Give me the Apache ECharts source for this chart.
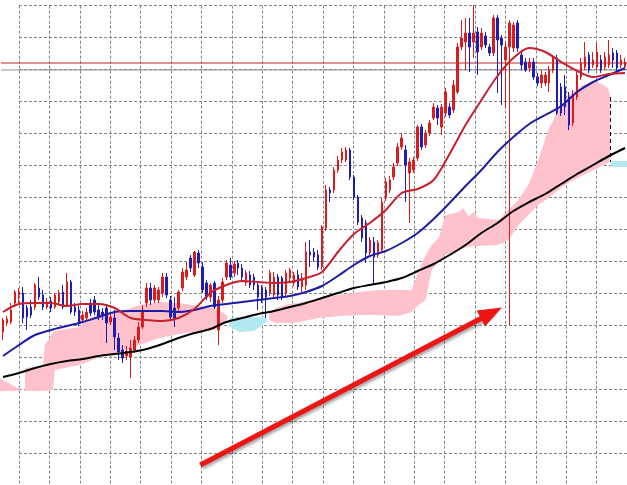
<!DOCTYPE html>
<html>
<head>
<meta charset="utf-8">
<title>chart</title>
<script src="https://cdn.jsdelivr.net/npm/echarts@6.0.0/dist/echarts.min.js"></script>
<style>
  html, body { margin: 0; padding: 0; background: #fff; }
  #main { width: 627px; height: 485px; }
</style>
</head>
<body>
<div id="main"></div>
<script>
// bars: [open, close, low, high]
const candles = [
  [1.3668,1.3680,1.3660,1.3682],[1.3677,1.3681,1.3674,1.3684],[1.3678,1.3690,1.3676,1.3697],[1.3697,1.3708,1.3693,1.3710],
  [1.3705,1.3708,1.3697,1.3712],[1.3707,1.3682,1.3677,1.3713],[1.3692,1.3683,1.3670,1.3695],[1.3693,1.3685,1.3682,1.3700],
  [1.3693,1.3715,1.3690,1.3717],[1.3712,1.3703,1.3700,1.3723],[1.3705,1.3693,1.3690,1.3710],[1.3693,1.3698,1.3691,1.3702],
  [1.3699,1.3692,1.3688,1.3703],[1.3693,1.3705,1.3691,1.3707],[1.3698,1.3707,1.3695,1.3710],[1.3708,1.3693,1.3691,1.3715],
  [1.3695,1.3718,1.3693,1.3727],[1.3718,1.3688,1.3686,1.3720],[1.3693,1.3688,1.3684,1.3697],[1.3690,1.3677,1.3674,1.3694],
  [1.3680,1.3685,1.3677,1.3689],[1.3682,1.3688,1.3679,1.3692],[1.3697,1.3687,1.3684,1.3701],[1.3700,1.3688,1.3685,1.3704],
  [1.3690,1.3683,1.3680,1.3695],[1.3688,1.3684,1.3680,1.3692],[1.3692,1.3677,1.3657,1.3695],[1.3678,1.3683,1.3675,1.3686],
  [1.3682,1.3663,1.3650,1.3690],[1.3662,1.3648,1.3640,1.3667],[1.3650,1.3642,1.3637,1.3655],[1.3644,1.3649,1.3640,1.3654],
  [1.3643,1.3652,1.3622,1.3660],[1.3650,1.3660,1.3647,1.3664],[1.3660,1.3673,1.3657,1.3678],[1.3673,1.3690,1.3671,1.3695],
  [1.3697,1.3712,1.3693,1.3717],[1.3712,1.3700,1.3695,1.3717],[1.3700,1.3712,1.3697,1.3715],[1.3700,1.3710,1.3697,1.3713],
  [1.3707,1.3723,1.3703,1.3727],[1.3723,1.3705,1.3702,1.3727],[1.3700,1.3683,1.3680,1.3704],[1.3692,1.3682,1.3673,1.3703],
  [1.3692,1.3708,1.3689,1.3710],[1.3712,1.3728,1.3709,1.3732],[1.3723,1.3730,1.3720,1.3738],[1.3742,1.3732,1.3728,1.3745],
  [1.3725,1.3748,1.3723,1.3749],[1.3747,1.3737,1.3732,1.3750],[1.3733,1.3710,1.3707,1.3738],[1.3717,1.3703,1.3700,1.3720],
  [1.3703,1.3715,1.3698,1.3717],[1.3717,1.3693,1.3691,1.3719],[1.3670,1.3700,1.3655,1.3704],[1.3700,1.3718,1.3697,1.3722],
  [1.3723,1.3737,1.3720,1.3740],[1.3735,1.3723,1.3720,1.3742],[1.3727,1.3736,1.3723,1.3739],[1.3737,1.3732,1.3725,1.3740],
  [1.3732,1.3723,1.3720,1.3736],[1.3717,1.3727,1.3714,1.3730],[1.3725,1.3715,1.3712,1.3729],[1.3723,1.3715,1.3710,1.3726],
  [1.3715,1.3703,1.3690,1.3718],[1.3712,1.3700,1.3697,1.3715],[1.3710,1.3703,1.3682,1.3713],[1.3707,1.3727,1.3704,1.3730],
  [1.3705,1.3723,1.3703,1.3728],[1.3723,1.3705,1.3700,1.3726],[1.3722,1.3703,1.3700,1.3724],[1.3707,1.3727,1.3704,1.3730],
  [1.3722,1.3730,1.3718,1.3732],[1.3717,1.3725,1.3714,1.3728],[1.3725,1.3713,1.3710,1.3730],[1.3713,1.3722,1.3708,1.3727],
  [1.3715,1.3748,1.3710,1.3758],[1.3748,1.3745,1.3733,1.3760],[1.3748,1.3743,1.3738,1.3752],[1.3745,1.3733,1.3730,1.3750],
  [1.3733,1.3773,1.3730,1.3775],[1.3772,1.3810,1.3769,1.3815],[1.3810,1.3807,1.3798,1.3813],[1.3810,1.3830,1.3807,1.3833],
  [1.3830,1.3840,1.3827,1.3844],[1.3840,1.3848,1.3837,1.3852],[1.3840,1.3850,1.3838,1.3853],[1.3850,1.3823,1.3820,1.3852],
  [1.3823,1.3803,1.3800,1.3825],[1.3803,1.3778,1.3775,1.3805],[1.3782,1.3762,1.3758,1.3785],[1.3777,1.3747,1.3737,1.3780],
  [1.3747,1.3760,1.3744,1.3763],[1.3758,1.3743,1.3715,1.3763],[1.3745,1.3757,1.3742,1.3760],[1.3750,1.3798,1.3747,1.3802],
  [1.3802,1.3818,1.3799,1.3822],[1.3810,1.3820,1.3807,1.3824],[1.3823,1.3833,1.3820,1.3837],[1.3837,1.3853,1.3834,1.3857],
  [1.3853,1.3862,1.3850,1.3867],[1.3850,1.3835,1.3798,1.3855],[1.3827,1.3838,1.3777,1.3842],[1.3830,1.3840,1.3827,1.3843],
  [1.3842,1.3873,1.3839,1.3875],[1.3873,1.3853,1.3850,1.3876],[1.3855,1.3867,1.3852,1.3870],[1.3867,1.3877,1.3864,1.3880],
  [1.3882,1.3893,1.3880,1.3897],[1.3892,1.3882,1.3875,1.3895],[1.3873,1.3893,1.3865,1.3896],[1.3887,1.3908,1.3883,1.3912],
  [1.3893,1.3885,1.3882,1.3897],[1.3890,1.3915,1.3887,1.3920],[1.3908,1.3953,1.3906,1.3957],[1.3953,1.3962,1.3950,1.3980],
  [1.3958,1.3967,1.3930,1.3982],[1.3967,1.3953,1.3928,1.3982],[1.3958,1.3967,1.3942,1.3995],[1.3968,1.3948,1.3925,1.3973],
  [1.3953,1.3967,1.3950,1.3972],[1.3964,1.3955,1.3952,1.3968],[1.3953,1.3947,1.3944,1.3956],[1.3947,1.3982,1.3944,1.3985],
  [1.3982,1.3960,1.3907,1.3985],[1.3962,1.3955,1.3895,1.3965],[1.3940,1.3953,1.3893,1.3958],[1.3953,1.3977,1.3675,1.3980],
  [1.3952,1.3975,1.3948,1.3978],[1.3977,1.3952,1.3948,1.3980],[1.3945,1.3935,1.3930,1.3950],[1.3938,1.3930,1.3928,1.3942],
  [1.3932,1.3938,1.3928,1.3942],[1.3938,1.3923,1.3920,1.3942],[1.3923,1.3917,1.3914,1.3927],[1.3917,1.3925,1.3912,1.3930],
  [1.3917,1.3925,1.3914,1.3928],[1.3917,1.3930,1.3908,1.3934],[1.3930,1.3942,1.3927,1.3945],[1.3942,1.3887,1.3885,1.3945],
  [1.3913,1.3887,1.3884,1.3917],[1.3913,1.3893,1.3885,1.3925],[1.3903,1.3875,1.3870,1.3908],[1.3877,1.3905,1.3874,1.3910],
  [1.3903,1.3925,1.3900,1.3928],[1.3923,1.3937,1.3920,1.3942],[1.3933,1.3943,1.3930,1.3958],[1.3945,1.3930,1.3927,1.3948],
  [1.3935,1.3940,1.3932,1.3948],[1.3933,1.3948,1.3930,1.3957],[1.3940,1.3930,1.3927,1.3945],[1.3933,1.3943,1.3930,1.3948],
  [1.3935,1.3945,1.3932,1.3960],[1.3947,1.3940,1.3932,1.3952],[1.3947,1.3932,1.3927,1.3950],[1.3935,1.3940,1.3932,1.3945],
  [1.3933,1.3938,1.3930,1.3942]
];

// moving averages, read every 4th bar
const maIdx = [0,4,8,12,16,20,24,28,32,36,40,44,48,52,56,60,64,68,72,76,80,84,88,92,96,100,104,108,112,116,120,124,128,132,136,140,144,148,152,156];
const maRed = [1.3688,1.3696,1.3697,1.3697,1.3694,1.3696,1.3696,1.3692,1.3682,1.3680,1.3679,1.3682,1.3691,1.3707,1.3715,1.3719,1.3718,1.3717,1.3718,1.3722,
               1.3728,1.3748,1.3766,1.3777,1.3790,1.3807,1.3811,1.3820,1.3846,1.3875,1.3900,1.3924,1.3942,1.3952,1.3948,1.3938,1.3929,1.3923,1.3926,1.3927];
const maBlue = [1.3644,1.3655,1.3665,1.3670,1.3674,1.3678,1.3683,1.3688,1.3689,1.3689,1.3689,1.3688,1.3690,1.3694,1.3696,1.3698,1.3700,1.3702,1.3704,1.3708,
                1.3714,1.3724,1.3735,1.3744,1.3749,1.3757,1.3767,1.3781,1.3797,1.3814,1.3830,1.3848,1.3863,1.3876,1.3885,1.3894,1.3908,1.3918,1.3925,1.3932];
const maBlack = [1.3623,1.3627,1.3632,1.3636,1.3639,1.3641,1.3644,1.3646,1.3648,1.3651,1.3656,1.3662,1.3667,1.3671,1.3678,1.3682,1.3686,1.3689,1.3693,1.3697,
                 1.3702,1.3707,1.3712,1.3715,1.3718,1.3722,1.3729,1.3736,1.3745,1.3755,1.3767,1.3777,1.3789,1.3798,1.3806,1.3816,1.3826,1.3835,1.3844,1.3852];

// cloud pieces: [bar, upper edge, lower edge]
const kumoPink1 = [[-1,1.3622,1.3609],[4.2,1.3611,1.3609]];
const kumoPink2 = [[5.5,1.3632,1.3609],[10,1.3634,1.3609],[10.5,1.3655,1.3609],[12.5,1.3668,1.3610],[13,1.3669,1.3630],
  [19.25,1.3673,1.3635],[20,1.3678,1.3636],[24.25,1.3687,1.3643],[29.25,1.3688,1.3648],[34.25,1.3695,1.3655],[39.25,1.3698,1.3662],
  [44.25,1.3697,1.3666],[49.25,1.3694,1.3669],[53,1.3692,1.3670],[54.75,1.3688,1.3674],[56.25,1.3684,1.3680]];
const kumoBlue1 = [[56.75,1.3682,1.3674],[59.25,1.3683,1.3668],[63,1.3683,1.3669],[64.75,1.3683,1.3674],[66.25,1.3682,1.3679]];
const kumoPink3 = [[66.75,1.3686,1.3680],[68.5,1.3692,1.3677],[71.75,1.3696,1.3677],[74.25,1.3697,1.3678],[79.25,1.3702,1.3682],
  [84.25,1.3705,1.3684],[89.25,1.3708,1.3685],[94.25,1.3710,1.3685],[99.25,1.3710,1.3684],[102.5,1.3710,1.3688],[104.25,1.3730,1.3695],
  [106,1.3745,1.3700],[107.5,1.3755,1.3730],[109.25,1.3762,1.3738],[111,1.3785,1.3745],[114.25,1.3788,1.3750],[115.5,1.3792,1.3752],
  [116.75,1.3783,1.3753],[118,1.3788,1.3754],[119.25,1.3782,1.3754],[124.25,1.3780,1.3755],[126.75,1.3790,1.3760],[129.25,1.3800,1.3775],
  [131.75,1.3815,1.3785],[134.25,1.3840,1.3795],[136.75,1.3870,1.3802],[139.25,1.3890,1.3810],[141.75,1.3905,1.3817],[145.5,1.3915,1.3825],
  [149.25,1.3918,1.3832],[151.75,1.3912,1.3837],[152.25,1.3905,1.3840]];
const kumoBlue2 = [[152.5,1.3839,1.3833],[157,1.3839,1.3833]];
const kumoEdge = [[152.2,1.3903],[152.2,1.3838]];

// horizontal price levels
const levelRed = 1.3937;
const levelGrey = 1.3930;
const arrowPts = [[49.5,1.3535],[122.5,1.3687]];

const PINK = '#ffc2cc';
const CYAN = '#b2e8ef';
const kumoParts = [
  { pts: kumoPink1, fill: PINK }, { pts: kumoPink2, fill: PINK }, { pts: kumoBlue1, fill: CYAN },
  { pts: kumoPink3, fill: PINK }, { pts: kumoBlue2, fill: CYAN }
];

const chart = echarts.init(document.getElementById('main'));
const pairs = arr => maIdx.map((x, k) => [x, arr[k]]);
const maLine = (name, arr, color, z) => ({
  name: name, type: 'line', xAxisIndex: 1, yAxisIndex: 0, data: pairs(arr),
  symbol: 'none', smooth: 0.3, z: z, silent: true,
  lineStyle: { color: color, width: 2 }
});
const levelLine = (name, lv, color) => ({
  name: name, type: 'line', xAxisIndex: 1, yAxisIndex: 0, z: 2, silent: true,
  data: [[-0.5, lv], [156.5, lv]], symbol: 'none',
  lineStyle: { color: color, width: 1.2 }
});

const blackLine = maLine('MA slow', maBlack, '#000000', 4);
blackLine.markLine = {
  silent: true, symbol: 'none', label: { show: false },
  lineStyle: { color: '#000', width: 1, type: [4, 3] },
  data: [[{ coord: kumoEdge[0] }, { coord: kumoEdge[1] }]]
};

chart.setOption({
  animation: false,
  backgroundColor: '#ffffff',
  grid: [
    { left: 1, top: 0, width: 628, height: 485 },
    { left: 19, top: 5.67, width: 640, height: 499.5 }
  ],
  xAxis: [
    { type: 'category', gridIndex: 0, data: candles.map((c, i) => i), boundaryGap: true, show: false },
    { type: 'value', gridIndex: 0, min: -0.5, max: 156.5, show: false },
    { type: 'value', gridIndex: 1, min: 0, max: 20, interval: 1,
      axisLine: { show: false }, axisTick: { show: false }, axisLabel: { show: false },
      splitLine: { show: true, lineStyle: { color: '#858585', width: 1, type: [3, 2] } } }
  ],
  yAxis: [
    { type: 'value', gridIndex: 0, min: 1.3515, max: 1.4000, show: false },
    { type: 'value', gridIndex: 1, min: 0, max: 15, interval: 1, inverse: true,
      axisLine: { show: false }, axisTick: { show: false }, axisLabel: { show: false },
      splitLine: { show: true, lineStyle: { color: '#858585', width: 1, type: [3, 2] } } }
  ],
  series: [
    {
      name: 'Kumo', type: 'custom', xAxisIndex: 1, yAxisIndex: 0, z: 1, silent: true,
      data: kumoParts.map((p, k) => [p.pts[0][0], p.pts[0][1], k]),
      renderItem: function (params, api) {
        const part = kumoParts[api.value(2)];
        const top = part.pts.map(d => api.coord([d[0], d[1]]));
        const bot = part.pts.map(d => api.coord([d[0], d[2]])).reverse();
        return { type: 'polygon', shape: { points: top.concat(bot) }, style: { fill: part.fill } };
      }
    },
    levelLine('Level 1', levelGrey, '#8a94a0'),
    levelLine('Level 2', levelRed, '#c02828'),
    {
      name: 'Price', type: 'candlestick', xAxisIndex: 0, yAxisIndex: 0, z: 3, silent: true,
      data: candles, barWidth: 2,
      itemStyle: { color: '#dc1c1c', color0: '#1e1eb4', borderColor: '#dc1c1c', borderColor0: '#1e1eb4', borderWidth: 1 }
    },
    blackLine,
    maLine('MA mid', maBlue, '#1c1ca6', 4),
    maLine('MA fast', maRed, '#c8202a', 4),
    {
      name: 'Arrow', type: 'line', xAxisIndex: 1, yAxisIndex: 0, z: 10, silent: true,
      data: arrowPts, symbol: 'none', lineStyle: { opacity: 0 },
      markLine: {
        silent: true, label: { show: false },
        symbol: ['none', 'triangle'], symbolSize: [18, 24],
        lineStyle: { color: '#ee1515', width: 5, type: 'solid', shadowBlur: 3, shadowColor: 'rgba(0,0,0,0.35)', shadowOffsetX: 2, shadowOffsetY: 2 },
        data: [[{ coord: arrowPts[0] }, { coord: arrowPts[1] }]]
      }
    }
  ]
});
</script>
</body>
</html>
